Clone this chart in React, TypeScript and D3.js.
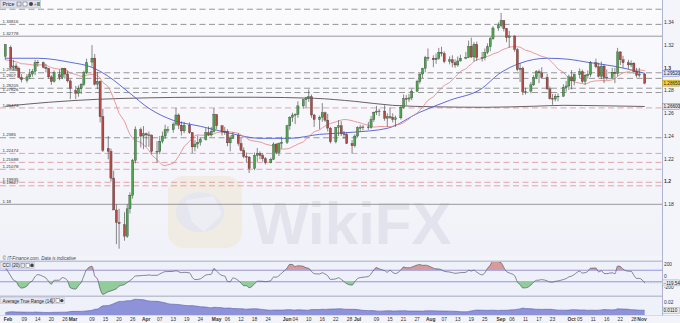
import React from "react";
import * as d3 from "d3";

// ---------- DATA (GBP/USD daily, 31 Jan 2020 -> 2 Nov 2020, weekdays) ----------
// January 2020 bars (3 Jan - 30 Jan) that only feed the indicators
const priorHigh = [1.3160,1.3165,1.3215,1.3145,1.3120,1.3095,1.3065,1.3045,1.3050,1.3085,1.3120,1.3030,1.3055,1.3140,1.3150,1.3120,1.3090,1.3070,1.3050,1.3110];
const priorLow = [1.3050,1.3065,1.3105,1.3085,1.3040,1.3030,1.2960,1.2965,1.2990,1.3010,1.2990,1.2985,1.2975,1.3035,1.3100,1.3055,1.3040,1.2995,1.2990,1.2990];
const priorClose = [1.3080,1.3155,1.3110,1.3110,1.3065,1.3060,1.2990,1.3020,1.3040,1.3075,1.3010,1.3005,1.3045,1.3125,1.3120,1.3075,1.3065,1.3010,1.3010,1.3105];

const open = [
  1.3100,
  1.3180,1.3003,1.3016,1.2995,1.2915,1.2890,1.2920,1.2945,1.2970,1.3045,1.3045,1.3005,1.2995,1.2920,1.2880,1.2940,1.2915,1.2995,1.2945,1.2885,
  1.2800,1.2775,1.2815,1.2855,1.2960,1.3050,1.3085,1.2855,1.2880,1.2570,1.2290,1.2265,1.2030,1.1750,1.1640,1.1620,1.1520,1.1760,1.1880,1.2185,1.2455,1.2400,
  1.2420,1.2410,1.2410,1.2265,1.2265,1.2355,1.2400,1.2455,1.2455,1.2505,1.2585,1.2495,1.2445,1.2495,1.2430,1.2305,1.2330,1.2345,1.2370,1.2430,1.2410,1.2440,
  1.2590,1.2490,1.2435,1.2440,1.2340,1.2380,1.2405,1.2335,1.2275,1.2220,1.2215,1.2115,1.2230,1.2245,1.2230,1.2200,1.2165,1.2195,1.2330,1.2255,1.2335,
  1.2345,1.2490,1.2565,1.2585,1.2590,1.2665,1.2720,1.2735,1.2745,1.2585,1.2545,1.2565,1.2605,1.2540,1.2470,1.2350,1.2475,1.2490,1.2420,1.2415,1.2335,1.2315,
  1.2400,1.2475,1.2475,1.2480,1.2475,1.2545,1.2610,1.2620,1.2620,1.2555,1.2570,1.2565,1.2545,1.2560,1.2650,1.2730,1.2725,1.2735,1.2795,1.2880,1.2945,1.2995,1.3090,
  1.3085,1.3070,1.3085,1.3135,1.3125,1.3055,1.3070,1.3045,1.3025,1.3060,1.3085,1.3090,1.3190,1.3095,1.3205,1.3090,1.3090,1.3135,1.3185,1.3255,1.3350,
  1.3370,1.3415,1.3345,1.3265,1.3280,1.3160,1.2985,1.2995,1.2790,1.2795,1.2850,1.2915,1.2965,1.2955,1.2915,1.2815,1.2730,1.2725,1.2750,1.2750,1.2825,1.2840,
  1.2920,1.2885,1.2940,1.2965,1.2880,1.2935,1.2940,1.3045,1.3010,1.2925,1.3015,1.2915,1.2915,1.2960,1.2950,1.3140,1.3070,1.3045,1.3025,1.3040,1.2965,1.2935,
  1.2945,
];
const high = [
  1.3207,
  1.3197,1.3070,1.3040,1.3010,1.2945,1.2945,1.2990,1.2990,1.3070,1.3069,1.3055,1.3035,1.3000,1.2935,1.2977,1.2985,1.3000,1.3000,1.2975,1.2900,
  1.2840,1.2845,1.2865,1.2975,1.3080,1.3200,1.3120,1.2965,1.2890,1.2640,1.2400,1.2290,1.2095,1.1800,1.1760,1.1730,1.1800,1.1905,1.2200,1.2485,1.2475,1.2487,
  1.2430,1.2440,1.2410,1.2355,1.2400,1.2440,1.2500,1.2485,1.2520,1.2647,1.2600,1.2530,1.2525,1.2520,1.2435,1.2365,1.2405,1.2385,1.2470,1.2485,1.2480,1.2645,
  1.2590,1.2495,1.2480,1.2460,1.2405,1.2435,1.2425,1.2380,1.2300,1.2255,1.2225,1.2255,1.2295,1.2265,1.2250,1.2215,1.2210,1.2345,1.2335,1.2345,1.2395,
  1.2500,1.2575,1.2605,1.2600,1.2705,1.2725,1.2745,1.2810,1.2765,1.2595,1.2580,1.2690,1.2615,1.2595,1.2480,1.2480,1.2540,1.2530,1.2445,1.2430,1.2365,1.2415,
  1.2485,1.2500,1.2495,1.2525,1.2575,1.2615,1.2665,1.2640,1.2670,1.2600,1.2650,1.2600,1.2580,1.2670,1.2765,1.2760,1.2770,1.2815,1.2895,1.2950,1.3000,1.3105,1.3170,
  1.3110,1.3125,1.3175,1.3185,1.3145,1.3100,1.3110,1.3075,1.3100,1.3115,1.3140,1.3240,1.3265,1.3225,1.3230,1.3140,1.3170,1.3215,1.3270,1.3365,1.3400,
  1.3482,1.3420,1.3350,1.3325,1.3285,1.3175,1.3040,1.3010,1.2825,1.2875,1.2935,1.2980,1.2985,1.3005,1.2945,1.2835,1.2770,1.2770,1.2775,1.2855,1.2885,1.2940,
  1.2980,1.2950,1.2995,1.2985,1.2945,1.2975,1.3060,1.3080,1.3045,1.3055,1.3030,1.2985,1.3000,1.3000,1.3175,1.3145,1.3105,1.3070,1.3065,1.3050,1.3000,1.3000,
  1.2955,
];
const low = [
  1.3070,
  1.2992,1.2976,1.2975,1.2910,1.2873,1.2870,1.2900,1.2920,1.2935,1.3010,1.2995,1.2960,1.2905,1.2850,1.2870,1.2890,1.2900,1.2905,1.2870,1.2725,
  1.2725,1.2745,1.2770,1.2840,1.2945,1.3010,1.2845,1.2815,1.2520,1.2260,1.2195,1.2000,1.1760,1.1450,1.1410,1.1480,1.1505,1.1720,1.1850,1.2160,1.2300,1.2285,
  1.2305,1.2305,1.2240,1.2165,1.2240,1.2335,1.2375,1.2425,1.2430,1.2490,1.2460,1.2405,1.2425,1.2420,1.2250,1.2265,1.2290,1.2315,1.2360,1.2400,1.2395,1.2430,
  1.2460,1.2405,1.2410,1.2310,1.2265,1.2375,1.2315,1.2265,1.2205,1.2165,1.2075,1.2100,1.2175,1.2195,1.2175,1.2150,1.2160,1.2190,1.2240,1.2225,1.2290,
  1.2330,1.2455,1.2525,1.2505,1.2560,1.2640,1.2650,1.2700,1.2560,1.2480,1.2460,1.2525,1.2525,1.2440,1.2335,1.2335,1.2400,1.2400,1.2375,1.2330,1.2250,1.2300,
  1.2390,1.2440,1.2450,1.2455,1.2465,1.2525,1.2585,1.2575,1.2535,1.2480,1.2550,1.2520,1.2480,1.2545,1.2640,1.2670,1.2700,1.2715,1.2785,1.2860,1.2910,1.2960,1.3060,
  1.3005,1.3035,1.3070,1.3100,1.3040,1.3030,1.3005,1.3000,1.3010,1.3055,1.3075,1.3085,1.3085,1.3055,1.3060,1.3055,1.3065,1.3120,1.3145,1.3245,1.3325,
  1.3355,1.3320,1.3225,1.3175,1.3140,1.2970,1.2875,1.2760,1.2765,1.2775,1.2840,1.2900,1.2865,1.2905,1.2805,1.2720,1.2675,1.2705,1.2705,1.2745,1.2790,1.2805,
  1.2810,1.2845,1.2910,1.2865,1.2850,1.2905,1.2920,1.2995,1.2915,1.2900,1.2865,1.2895,1.2905,1.2865,1.2925,1.3025,1.3000,1.2990,1.3005,1.2945,1.2915,1.2915,
  1.2855,
];
const close = [
  1.3205,
  1.3003,1.3016,1.2995,1.2915,1.2895,1.2920,1.2945,1.2970,1.3045,1.3049,1.3005,1.2995,1.2920,1.2880,1.2960,1.2915,1.2995,1.2945,1.2885,1.2820,
  1.2775,1.2815,1.2855,1.2960,1.3045,1.3085,1.2855,1.2880,1.2570,1.2275,1.2265,1.2030,1.1750,1.1640,1.1630,1.1520,1.1760,1.1880,1.2185,1.2455,1.2400,1.2420,
  1.2410,1.2410,1.2265,1.2265,1.2355,1.2400,1.2455,1.2455,1.2505,1.2585,1.2495,1.2445,1.2495,1.2430,1.2305,1.2330,1.2345,1.2370,1.2430,1.2410,1.2440,1.2590,
  1.2490,1.2435,1.2440,1.2340,1.2380,1.2405,1.2335,1.2275,1.2220,1.2215,1.2115,1.2230,1.2245,1.2230,1.2200,1.2165,1.2195,1.2330,1.2255,1.2335,1.2345,
  1.2490,1.2565,1.2585,1.2590,1.2665,1.2720,1.2735,1.2745,1.2585,1.2545,1.2565,1.2605,1.2540,1.2470,1.2350,1.2475,1.2490,1.2420,1.2415,1.2335,1.2315,1.2400,
  1.2475,1.2475,1.2480,1.2475,1.2545,1.2610,1.2620,1.2620,1.2555,1.2570,1.2565,1.2545,1.2560,1.2650,1.2730,1.2725,1.2735,1.2795,1.2880,1.2945,1.2995,1.3090,1.3085,
  1.3070,1.3085,1.3135,1.3125,1.3055,1.3070,1.3045,1.3025,1.3060,1.3085,1.3090,1.3190,1.3095,1.3205,1.3090,1.3090,1.3135,1.3185,1.3255,1.3350,1.3370,
  1.3415,1.3345,1.3265,1.3280,1.3160,1.2985,1.2995,1.2790,1.2795,1.2850,1.2915,1.2965,1.2955,1.2915,1.2815,1.2730,1.2725,1.2750,1.2750,1.2825,1.2840,1.2920,
  1.2885,1.2940,1.2965,1.2880,1.2935,1.2940,1.3045,1.3010,1.2925,1.3015,1.2915,1.2915,1.2960,1.2950,1.3140,1.3070,1.3045,1.3025,1.3040,1.2965,1.2935,1.2945,
  1.2865,
];

// 50-day moving average (blue)
const sma50Dates = ["2020-01-31","2020-02-14","2020-02-28","2020-03-09","2020-03-16","2020-03-25","2020-04-02","2020-04-13","2020-04-24","2020-05-07","2020-05-20","2020-06-02","2020-06-15","2020-06-29","2020-07-14","2020-07-28","2020-08-10","2020-08-24","2020-08-31","2020-09-09","2020-09-21","2020-09-30","2020-10-08","2020-10-20","2020-11-02"];
const sma50Values = [1.3084,1.3084,1.3048,1.3004,1.2925,1.2776,1.2644,1.2538,1.2486,1.2424,1.2380,1.2380,1.2415,1.2433,1.2468,1.2609,1.2714,1.2820,1.2943,1.3040,1.3084,1.3075,1.3048,1.3013,1.2952];
// 200-day moving average (dark)
const sma200Dates = ["2020-01-31","2020-02-19","2020-03-11","2020-04-02","2020-04-24","2020-05-18","2020-06-12","2020-06-30","2020-07-16","2020-08-04","2020-08-25","2020-09-15","2020-09-28","2020-10-15","2020-11-02"];
const sma200Values = [1.2662,1.2697,1.2723,1.2736,1.2741,1.2741,1.2732,1.2705,1.2670,1.2657,1.2653,1.2662,1.2670,1.2666,1.2660];

// Horizontal levels (the first one's label sits under the "Price" box)
const grayDashedLevels = [1.35150, 1.33816, 1.29564, 1.29070, 1.28205, 1.27826, 1.23850];
const solidLevels = [1.32778, 1.18];
const redDashedLevels = [1.26473, 1.22474, 1.21688, 1.21078, 1.19935, 1.19627];

const priceTicks = [1.34, 1.32, 1.3, 1.28, 1.26, 1.24, 1.22, 1.2, 1.18];
const cciTicks = [200, 0, -200];
const atrTicks = [0.02];

const tickDates = ["2020-02-02","2020-02-09","2020-02-14","2020-02-20","2020-02-26","2020-03-01","2020-03-09","2020-03-15","2020-03-20","2020-03-26","2020-04-01","2020-04-07","2020-04-13","2020-04-19","2020-04-24","2020-05-01","2020-05-06","2020-05-12","2020-05-18","2020-05-24","2020-06-01","2020-06-04","2020-06-10","2020-06-16","2020-06-22","2020-06-28","2020-07-01","2020-07-09","2020-07-15","2020-07-21","2020-07-27","2020-08-02","2020-08-07","2020-08-13","2020-08-19","2020-08-25","2020-09-01","2020-09-06","2020-09-11","2020-09-17","2020-09-23","2020-10-01","2020-10-05","2020-10-11","2020-10-16","2020-10-22","2020-10-28","2020-11-01"];
const tickLabels = ["Feb","09","14","20","26","Mar","09","15","20","26","Apr","07","13","19","24","May","06","12","18","24","Jun","04","10","16","22","28","Jul","09","15","21","27","Aug","07","13","19","25","Sep","06","11","17","23","Oct","05","11","16","22","28","Nov"];

// ---------- LAYOUT ----------
const W = 680, H = 323;
const PLOT_R = 662;
const FONT = "'Liberation Sans', Arial, Helvetica, sans-serif";

export default function App() {
  const fmt = d3.timeFormat("%Y-%m-%d");
  const allDays = d3.timeDay.range(new Date(2020, 0, 31), new Date(2020, 10, 3));
  const slotDays = allDays.filter((d) => d.getDay() !== 6);
  const slotIndex = new Map<string, number>(slotDays.map((d, i) => [fmt(d), i]));
  const candleDays = slotDays.filter((d) => d.getDay() !== 0);
  const N = Math.min(candleDays.length, close.length);
  const candleSlot = candleDays.slice(0, N).map((d) => slotIndex.get(fmt(d)) as number);

  const x = d3.scaleLinear().domain([0, slotDays.length - 1]).range([5.3, 644.7]);
  const y = d3.scaleLinear().domain([1.18, 1.34]).range([204.3, 22.3]);
  const cy = d3.scaleLinear().domain([-200, 200]).range([287.5, 264.5]);
  const ay = d3.scaleLinear().domain([0.01, 0.02]).range([311.2, 302]);

  // indicators
  const HH = priorHigh.concat(high);
  const LL = priorLow.concat(low);
  const CC = priorClose.concat(close);
  const P = priorClose.length;
  const sma20 = d3.range(N).map((i) => d3.mean(CC.slice(i + P - 19, i + P + 1)) as number);
  const tp = HH.map((h, i) => (h + LL[i] + CC[i]) / 3);
  const cci = d3.range(N).map((i) => {
    const k = i + P;
    const w = tp.slice(k - 19, k + 1);
    const m = d3.mean(w) as number;
    const md = d3.mean(w, (v) => Math.abs(v - m)) as number;
    return (tp[k] - m) / (0.015 * md);
  });
  const tr = HH.map((h, k) => (k === 0 ? h - LL[k] : Math.max(h - LL[k], Math.abs(h - CC[k - 1]), Math.abs(LL[k] - CC[k - 1]))));
  const atrAll: number[] = [];
  let a = d3.mean(tr.slice(1, 15)) as number;
  for (let k = 0; k < tr.length; k++) {
    if (k > 14) a = (a * 13 + tr[k]) / 14;
    atrAll.push(a);
  }
  const atr = d3.range(N).map((i) => atrAll[i + P]);

  const xi = (i: number) => x(candleSlot[i]);
  const lineIdx = (vals: number[]) =>
    d3.line<number>().x((_, i) => xi(i)).y((v) => y(v))(vals) || "";
  const sparse = (dates: string[], vals: number[]) =>
    d3
      .line<number>()
      .x((_, i) => x(slotIndex.get(dates[i]) as number))
      .y((v) => y(v))
      .curve(d3.curveMonotoneX)(vals) || "";

  const cciLine = d3.line<number>().x((_, i) => xi(i)).y((v) => cy(v)).curve(d3.curveMonotoneX)(cci) || "";
  const cciUp = d3.area<number>().x((_, i) => xi(i)).y0(cy(100)).y1((v) => cy(v)).curve(d3.curveMonotoneX)(cci) || "";
  const cciDn = d3.area<number>().x((_, i) => xi(i)).y0(cy(-100)).y1((v) => cy(v)).curve(d3.curveMonotoneX)(cci) || "";
  const atrArea = d3.area<number>().x((_, i) => xi(i)).y0(315).y1((v) => ay(v)).curve(d3.curveMonotoneX)(atr) || "";
  const atrLine = d3.line<number>().x((_, i) => xi(i)).y((v) => ay(v)).curve(d3.curveMonotoneX)(atr) || "";

  const bodyW = 2.2;
  const lastClose = close[N - 1];
  const last50 = sma50Values[sma50Values.length - 1];
  const last200 = sma200Values[sma200Values.length - 1];
  const lastCci = cci[N - 1];
  const lastAtr = atr[N - 1];

  const tag = (yy: number, text: string, fill: string, stroke: string, key: string) => (
    <g key={key}>
      <rect x={662.5} y={yy - 3} width={17} height={6} fill={fill} stroke={stroke} strokeWidth={0.5} />
      <text x={663.5} y={yy + 1.8} fontSize={4.6} fill="#222">{text}</text>
    </g>
  );

  const allLevels = [...grayDashedLevels, ...solidLevels, ...redDashedLevels];

  return (
    <svg
      width={W}
      height={H}
      viewBox={`0 0 ${W} ${H}`}
      style={{ position: "absolute", left: 0, top: 0, display: "block" }}
      fontFamily={FONT}
    >
      <defs>
        <clipPath id="pricePanel"><rect x={0} y={0} width={PLOT_R} height={256} /></clipPath>
        <clipPath id="cciPanel"><rect x={0} y={262} width={PLOT_R} height={33.5} /></clipPath>
        <clipPath id="cciAbove"><rect x={0} y={262} width={PLOT_R} height={cy(100) - 262} /></clipPath>
        <clipPath id="cciBelow"><rect x={0} y={cy(-100)} width={PLOT_R} height={296 - cy(-100)} /></clipPath>
        <clipPath id="atrPanel"><rect x={0} y={297.5} width={PLOT_R} height={17.5} /></clipPath>
        <linearGradient id="pbg" x1="0" y1="0" x2="0" y2="1">
          <stop offset="0" stopColor="#fbfbfe" />
          <stop offset="1" stopColor="#f1f2f9" />
        </linearGradient>
      </defs>

      {/* backgrounds */}
      <rect x={0} y={0} width={W} height={H} fill="#f3f4fa" />
      <rect x={0} y={0} width={PLOT_R} height={256} fill="url(#pbg)" />
      <rect x={0} y={261} width={PLOT_R} height={35} fill="#eef0fa" />
      <rect x={0} y={297} width={PLOT_R} height={18} fill="#eef0fa" />
      <rect x={PLOT_R} y={0} width={W - PLOT_R} height={316} fill="#f4f5fb" />
      <line x1={PLOT_R + 0.5} y1={0} x2={PLOT_R + 0.5} y2={316} stroke="#9ea3c4" strokeWidth={0.8} />

      {/* watermark */}
      <g opacity={0.5}>
        <rect x={168} y={176} width={74} height={72} rx={16} fill="#efe6cf" />
        <ellipse cx={200} cy={212} rx={24} ry={20} fill="#d8d9e4" />
        <path d="M186,200 L214,196 L222,214 L204,232 L192,222 Z" fill="#e9eaf1" />
        <text x={252} y={244} fontSize={60} fontWeight={700} fill="#d3d5e0" fontFamily={FONT}>WikiFX</text>
      </g>

      {/* levels */}
      {grayDashedLevels.map((v, i) => (
        <line key={"g" + i} x1={0} x2={PLOT_R} y1={y(v)} y2={y(v)} stroke="#8c8c8c" strokeWidth={0.9} strokeDasharray="6,3.5" />
      ))}
      {solidLevels.map((v, i) => (
        <line key={"s" + i} x1={0} x2={PLOT_R} y1={y(v)} y2={y(v)} stroke="#8f8f8f" strokeWidth={0.9} />
      ))}
      {redDashedLevels.map((v, i) => (
        <line key={"r" + i} x1={0} x2={PLOT_R} y1={y(v)} y2={y(v)} stroke="#e39a9c" strokeWidth={0.9} strokeDasharray="6,3.5" />
      ))}
      {allLevels.map((v, i) =>
        y(v) < 12 ? null : (
          <text key={"lt" + i} x={2.5} y={y(v) - 1.3} fontSize={4.4} fill="#333">{String(v)}</text>
        )
      )}

      {/* moving averages */}
      <g clipPath="url(#pricePanel)" fill="none">
        <path d={sparse(sma200Dates, sma200Values)} stroke="#5b4f52" strokeWidth={0.9} />
        <path d={sparse(sma50Dates, sma50Values)} stroke="#4c5bd4" strokeWidth={0.9} />
        <path d={lineIdx(sma20)} stroke="#e58383" strokeWidth={0.8} />
      </g>

      {/* candles */}
      <g clipPath="url(#pricePanel)">
        {d3.range(N).map((i) => {
          const o = open[i], c = close[i];
          const up = c >= o;
          const cx = xi(i);
          const top = y(Math.max(o, c));
          const bh = Math.max(0.7, y(Math.min(o, c)) - top);
          return (
            <g key={i}>
              <line x1={cx} x2={cx} y1={y(high[i])} y2={y(low[i])} stroke="#3a3a3a" strokeWidth={0.6} />
              <rect x={cx - bodyW / 2} y={top} width={bodyW} height={bh} fill={up ? "#4aa64a" : "#b24a45"} stroke="#2e2e2e" strokeWidth={0.3} />
            </g>
          );
        })}
      </g>

      {/* price box */}
      <rect x={0.5} y={0.5} width={40} height={7.5} fill="#dde0ef" stroke="#a9aec8" strokeWidth={0.5} />
      <text x={2.5} y={6.2} fontSize={5.2} fill="#222">Price</text>
      <rect x={17} y={2} width={4} height={4} fill="none" stroke="#555" strokeWidth={0.5} />
      <rect x={23} y={2} width={4} height={4} fill="#fff" stroke="#555" strokeWidth={0.5} />
      <circle cx={31} cy={4} r={2} fill="#444" />
      <text x={34} y={6} fontSize={4.5} fill="#c33">+</text>
      <rect x={37} y={2} width={3} height={4} fill="#5a5" />

      {/* right price axis */}
      {priceTicks.map((v, i) => (
        <text key={"pt" + i} x={664} y={y(v) + 1.8} fontSize={5} fill="#333" fontWeight={Math.abs(v * 10 - Math.round(v * 10)) < 1e-9 ? 700 : 400}>
          {String(v)}
        </text>
      ))}
      {tag(y(last50), d3.format(".5f")(last50), "#dbe3fb", "#6d7fd8", "t50")}
      {tag(y(lastClose), d3.format(".5f")(lastClose), "#f4d23c", "#b39a1d", "tc")}
      {tag(y(last200), d3.format(".5f")(last200), "#e6e6ea", "#888", "t200")}

      {/* copyright */}
      <text x={2.5} y={259.5} fontSize={4.6} fontStyle="italic" fill="#444">© IT-Finance.com. Data is indicative</text>

      {/* CCI panel */}
      <line x1={0} x2={PLOT_R} y1={261.2} y2={261.2} stroke="#bfc2d2" strokeWidth={1.4} />
      <line x1={0} x2={PLOT_R} y1={296.2} y2={296.2} stroke="#bfc2d2" strokeWidth={1.4} />
      <line x1={0} x2={PLOT_R} y1={cy(100)} y2={cy(100)} stroke="#8a8fdb" strokeWidth={0.9} />
      <line x1={0} x2={PLOT_R} y1={cy(-100)} y2={cy(-100)} stroke="#8a8fdb" strokeWidth={0.9} />
      <line x1={xi(N - 1)} x2={W} y1={cy(lastCci)} y2={cy(lastCci)} stroke="#aab" strokeWidth={0.5} strokeDasharray="1.5,1.5" />
      <g clipPath="url(#cciPanel)">
        <path d={cciUp} fill="#d69c9c" clipPath="url(#cciAbove)" />
        <path d={cciDn} fill="#92cc9a" clipPath="url(#cciBelow)" />
        <path d={cciLine} fill="none" stroke="#555a66" strokeWidth={0.7} />
      </g>
      <rect x={0.5} y={262.2} width={34} height={6.5} fill="#e3e5f2" stroke="#b3b7cc" strokeWidth={0.4} />
      <text x={2.5} y={267.4} fontSize={4.6} fill="#222">CCI (20)</text>
      <rect x={21} y={263.5} width={3.5} height={3.8} fill="none" stroke="#555" strokeWidth={0.4} />
      <rect x={26} y={263.5} width={3.5} height={3.8} fill="#fff" stroke="#555" strokeWidth={0.4} />
      <circle cx={32} cy={265.4} r={1.8} fill="#444" />
      {cciTicks.map((v, i) => (
        <text key={"ct" + i} x={664} y={cy(v) + 1.7} fontSize={4.8} fill="#333">{String(v)}</text>
      ))}
      {tag(cy(lastCci), d3.format(".2f")(lastCci), "#e9eaf3", "#9aa", "tcci")}

      {/* ATR panel */}
      <g clipPath="url(#atrPanel)">
        <path d={atrArea} fill="#8e92d8" />
        <path d={atrLine} fill="none" stroke="#5b5fae" strokeWidth={0.6} />
      </g>
      <rect x={0.5} y={297.6} width={64} height={6.2} fill="#e3e5f2" stroke="#b3b7cc" strokeWidth={0.4} />
      <text x={2.5} y={302.6} fontSize={4.5} fill="#222">Average True Range (14)</text>
      <rect x={51} y={298.8} width={3.4} height={3.6} fill="none" stroke="#555" strokeWidth={0.4} />
      <rect x={56} y={298.8} width={3.4} height={3.6} fill="#fff" stroke="#555" strokeWidth={0.4} />
      <circle cx={61.8} cy={300.6} r={1.7} fill="#444" />
      {atrTicks.map((v, i) => (
        <text key={"at" + i} x={664} y={ay(v) + 1.7} fontSize={4.8} fill="#333">{String(v)}</text>
      ))}
      {tag(ay(lastAtr), d3.format(".4f")(lastAtr), "#e9eaf3", "#9aa", "tatr")}
      <line x1={0} x2={W} y1={315.5} y2={315.5} stroke="#c5c8d8" strokeWidth={0.6} />

      {/* x axis labels */}
      {tickDates.map((d, i) => {
        const s = slotIndex.get(d);
        if (s === undefined) return null;
        const isMonth = /^[A-Z]/.test(tickLabels[i]);
        return (
          <text key={"xt" + i} x={x(s)} y={321.3} fontSize={4.9} textAnchor="middle" fill="#333" fontWeight={isMonth ? 700 : 400}>
            {tickLabels[i]}
          </text>
        );
      })}
    </svg>
  );
}
